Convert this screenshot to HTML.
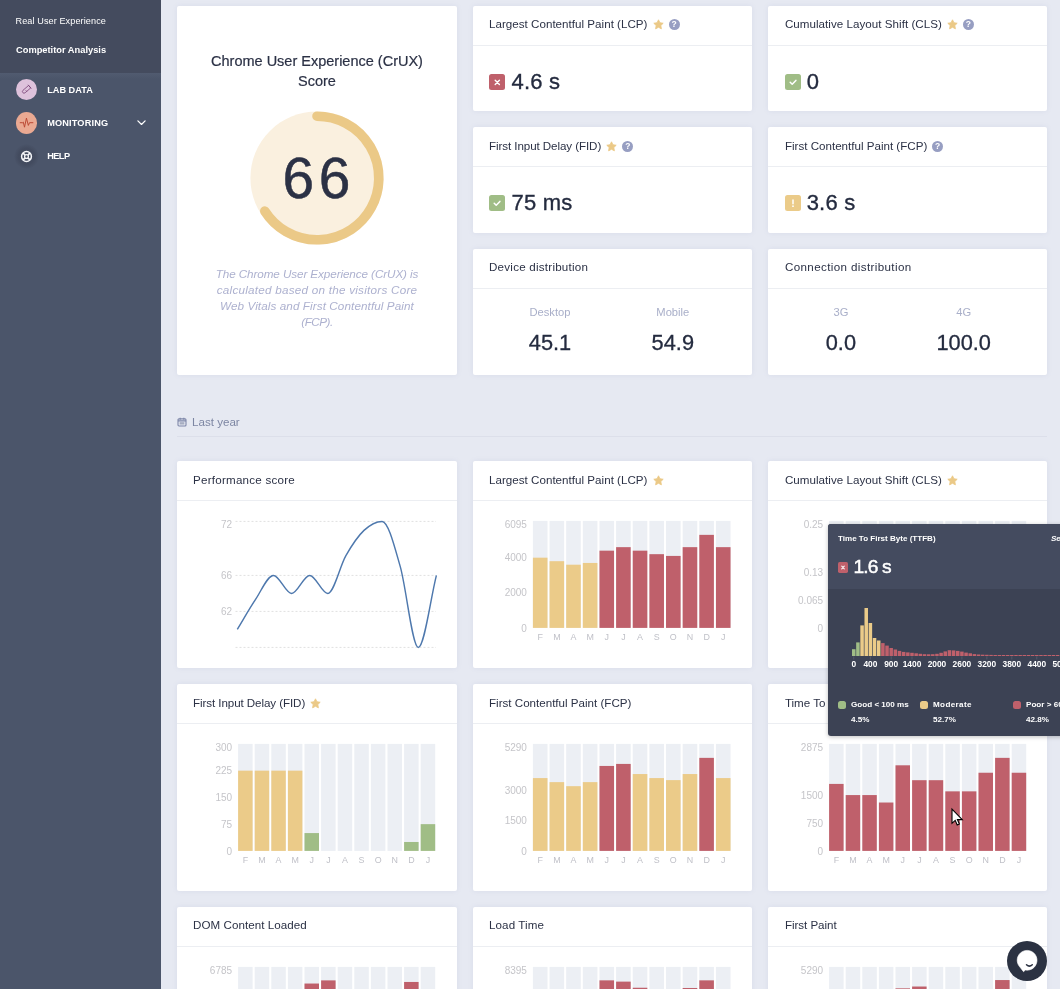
<!DOCTYPE html>
<html lang="en"><head><meta charset="utf-8"><title>Real User Experience</title>
<style>
*{box-sizing:border-box;margin:0;padding:0}
html,body{width:1060px;height:989px;overflow:hidden}
body{background:#e6e9f2;font-family:"Liberation Sans", sans-serif;color:#2b3145;position:relative}
#side{position:absolute;left:0;top:0;width:161px;height:989px;background:#4b556a}
#sidetop{position:absolute;left:0;top:0;width:161px;height:73px;background:#444b5e}
#sideband{position:absolute;left:0;top:73px;width:161px;height:6px;background:linear-gradient(#515b70,#4b556a)}
.sl{position:absolute;left:16px;font-size:9.1px;color:#fff;line-height:12px;white-space:nowrap}
.sl.b{font-weight:bold;font-size:9.3px}
.nav{position:absolute;left:16px;height:22px;width:140px}
.ic{position:absolute;left:0;top:0.5px;width:21px;height:21px;border-radius:50%}
.ic svg{display:block;width:21px;height:21px}
.nt{position:absolute;left:31.2px;top:0;line-height:22px;font-size:9.2px;font-weight:bold;color:#fff;white-space:nowrap}
.chev{position:absolute;left:120.6px;top:8.2px;width:9px;height:5.4px}
.card{position:absolute;background:#fff;border-radius:2px;box-shadow:0 0 5px rgba(130,140,185,.13)}
.hd{height:40px;border-bottom:1px solid #eceef2;padding-left:16px;padding-bottom:4px;line-height:36px;font-size:11.6px;white-space:nowrap;display:flex;align-items:center}
.hd2{padding-bottom:2.6px;line-height:37.4px}
.star{width:11px;height:11px;margin-left:5.3px;position:relative;top:1.2px}
.help{display:inline-block;width:11px;height:11px;border-radius:50%;background:#979ec2;color:#fff;font-size:8.5px;font-weight:bold;line-height:11px;text-align:center;margin-left:4.8px;position:relative;top:0.8px}
.mv{position:absolute;left:16px;top:68px;height:16px}
.mv .st{position:absolute;left:0;top:0;width:16px;height:16px}
.mv span{position:absolute;left:22.5px;top:-4.4px;font-size:22px;letter-spacing:0.2px;line-height:24px;white-space:nowrap;-webkit-text-stroke:0.35px #242b3f;color:#242b3f}
.ctitle{position:absolute;left:0;width:100%;top:44.6px;text-align:center;font-size:14.5px;line-height:20px;-webkit-text-stroke:0.2px #2b3145}
.cdesc{position:absolute;left:0;width:100%;top:259.6px;text-align:center;font-size:11.7px;line-height:16px;font-style:italic;color:#adb1cf}
.dl{position:absolute;top:56.3px;width:122px;text-align:center;font-size:11.2px;color:#a9afc9;line-height:14px}
.dv{position:absolute;top:80.9px;width:122px;text-align:center;font-size:21.8px;line-height:26px;-webkit-text-stroke:0.3px #242b3f;color:#242b3f}
#ly{position:absolute;left:177px;top:415px;font-size:11.6px;color:#7d86a3;line-height:14px;display:flex;align-items:center}
#ly span{margin-left:5px}
#lyline{position:absolute;left:177px;top:436px;width:870px;height:1px;background:#dcdfea}
#charts{position:absolute;left:0;top:0}
.ax{font-size:10px;fill:#c5c5c9;font-family:"Liberation Sans", sans-serif}
.xl{font-size:8.9px;fill:#c0c1c8}
.tx{font-size:8.4px;fill:#fff;font-weight:bold;font-family:"Liberation Sans", sans-serif}
#tip{position:absolute;left:828px;top:524px;width:240px;height:212px;background:#3c4254;border-radius:3px 0 0 3px;box-shadow:0 1px 4px rgba(0,0,0,.25);overflow:hidden;color:#fff}
#tiph{position:absolute;left:0;top:0;width:100%;height:65px;background:#444b5f}
.tt{position:absolute;left:10px;top:10px;font-size:8.05px;font-weight:bold;line-height:10px;white-space:nowrap}
.tse{position:absolute;left:223px;top:10px;font-size:8.05px;font-weight:bold;font-style:italic;line-height:10px;white-space:nowrap}
.tv{position:absolute;left:10px;top:32px;display:flex;align-items:center;height:22px}
.tv span{font-size:19.2px;margin-left:5.5px;line-height:22px;position:relative;top:0.4px;letter-spacing:-0.9px;-webkit-text-stroke:0.5px #fff}
.lg{position:absolute;top:172.5px;padding-left:13px;font-size:8.1px;font-weight:bold;line-height:15.2px;white-space:nowrap}
.lg i{position:absolute;left:0;top:4.6px;width:8px;height:8px;border-radius:2.5px}
#chat{position:absolute;left:1007px;top:941px;width:40px;height:40px;border-radius:50%;background:#2b3242}
</style></head>
<body>
<div id="side">
<div id="sidetop"><div class="sl" style="top:15px;left:15.5px;letter-spacing:0.1px">Real User Experience</div><div class="sl b" style="top:44px">Competitor Analysis</div></div>
<div id="sideband"></div>
<div class="nav" style="top:78.5px"><span class="ic" style="background:#dec2dc"><svg viewBox="0 0 21 21"><g transform="translate(10.4 10.500) rotate(-41) scale(.86)" fill="none" stroke="#7b4579" stroke-width="0.9" stroke-linejoin="round" stroke-linecap="round"><path d="M4.6 -1.9H-3.6a1.9 1.9 0 0 0 0 3.8H4.6z"/><path d="M5 -2.500v5"/><path d="M-1.2 1.9v-1.6" stroke-width=".7"/></g></svg></span><span class="nt">LAB DATA</span></div>
<div class="nav" style="top:111.7px"><span class="ic" style="background:#eaa992;height:21.7px"><svg viewBox="0 0 21 21"><path d="M4.2 10.700H6.700L7.300 10.100 8.500 15.200 10.450 6.100 12.350 13.400 13.500 10.700H16.900" fill="none" stroke="#b8452f" stroke-width="0.95" stroke-linejoin="round" stroke-linecap="round"/></svg></span><span class="nt" style="letter-spacing:0.15px">MONITORING</span><svg class="chev" viewBox="0 0 10 6"><path d="M1 1l4 4 4-4" fill="none" stroke="#fff" stroke-width="1.4" stroke-linecap="round" stroke-linejoin="round"/></svg></div>
<div class="nav" style="top:145.3px"><span class="ic" style="background:radial-gradient(circle,rgba(60,67,86,.55) 45%,rgba(60,67,86,0) 72%);width:25px;height:25px;left:-2px;top:-1.400px"><svg viewBox="0 0 25 25" style="width:25px;height:25px"><g fill="none" stroke="#f4f5f8"><circle cx="12.500" cy="12.500" r="4.900" stroke-width="1.500"/><circle cx="12.500" cy="12.500" r="1.900" stroke-width="1.300"/><path stroke-width="1.700" d="M8.900 8.900l2.200 2.200M16.100 8.900l-2.200 2.200M8.900 16.100l2.200-2.200M16.100 16.100l-2.200-2.200"/></g></svg></span><span class="nt" style="letter-spacing:-0.55px">HELP</span></div>
</div>
<div class="card" style="left:177px;top:6px;width:280px;height:369px">
<div class="ctitle">Chrome User Experience (CrUX)<br>Score</div>
<svg style="position:absolute;left:69.7px;top:102px" width="140" height="140" viewBox="0 0 140 140">
<circle cx="70" cy="70" r="66.6" fill="#faf0df"/>
<path d="M70 8.2 A61.8 61.8 0 1 1 17.8 103.1" fill="none" stroke="#ebc987" stroke-width="9.6" stroke-linecap="round"/>
<text x="35.6" y="89.9" font-size="56.8" letter-spacing="4.6" fill="#2b3145" stroke="#2b3145" stroke-width="0.5" font-family='"Liberation Sans", sans-serif'>66</text>
</svg>
<div class="cdesc"><span style="letter-spacing:-0.09px">The Chrome User Experience (CrUX) is</span><br><span style="letter-spacing:0.24px">calculated based on the visitors Core</span><br><span style="letter-spacing:0.09px">Web Vitals and First Contentful Paint</span><br><span style="letter-spacing:-0.5px">(FCP).</span></div>
</div>
<div class="card" style="left:473px;top:6px;width:279.1px;height:105px"><div class="hd"><span style="letter-spacing:0.02px">Largest Contentful Paint (LCP)</span><svg class="star" viewBox="0 0 24 24"><path d="M12 1.8l3.1 6.5 7.1 1-5.2 5 1.3 7.1L12 18l-6.3 3.4 1.3-7.1-5.2-5 7.1-1z" fill="#ebc987" stroke="#ebc987" stroke-width="2" stroke-linejoin="round"/></svg><span class="help">?</span></div><div class="mv" style="left:16px"><svg class="st" viewBox="0 0 16 16"><rect width="16" height="16" rx="2.5" fill="#bf606b"/><path d="M6.2 6.2l4.2 4.2M10.4 6.2l-4.2 4.2" stroke="#fff" stroke-width="1.4" stroke-linecap="round"/></svg><span style="left:22.5px">4.6 s</span></div></div>
<div class="card" style="left:768px;top:6px;width:279.3px;height:105px"><div class="hd" style="padding-left:16.9px"><span style="letter-spacing:0.035px">Cumulative Layout Shift (CLS)</span><svg class="star" viewBox="0 0 24 24"><path d="M12 1.8l3.1 6.5 7.1 1-5.2 5 1.3 7.1L12 18l-6.3 3.4 1.3-7.1-5.2-5 7.1-1z" fill="#ebc987" stroke="#ebc987" stroke-width="2" stroke-linejoin="round"/></svg><span class="help">?</span></div><div class="mv" style="left:16.9px"><svg class="st" viewBox="0 0 16 16"><rect width="16" height="16" rx="2.5" fill="#a0bd86"/><path d="M5.2 8.300l2 2 3.700-3.900" stroke="#fff" stroke-width="1.500" fill="none" stroke-linecap="round" stroke-linejoin="round"/></svg><span style="left:21.8px">0</span></div></div>
<div class="card" style="left:473px;top:127px;width:279.1px;height:106px"><div class="hd hd2"><span style="letter-spacing:-0.08px">First Input Delay (FID)</span><svg class="star" viewBox="0 0 24 24"><path d="M12 1.8l3.1 6.5 7.1 1-5.2 5 1.3 7.1L12 18l-6.3 3.4 1.3-7.1-5.2-5 7.1-1z" fill="#ebc987" stroke="#ebc987" stroke-width="2" stroke-linejoin="round"/></svg><span class="help">?</span></div><div class="mv" style="left:16px"><svg class="st" viewBox="0 0 16 16"><rect width="16" height="16" rx="2.5" fill="#a0bd86"/><path d="M5.2 8.300l2 2 3.700-3.900" stroke="#fff" stroke-width="1.500" fill="none" stroke-linecap="round" stroke-linejoin="round"/></svg><span style="left:22.5px">75 ms</span></div></div>
<div class="card" style="left:768px;top:127px;width:279.3px;height:106px"><div class="hd hd2" style="padding-left:16.9px"><span style="letter-spacing:0px">First Contentful Paint (FCP)</span><span class="help">?</span></div><div class="mv" style="left:16.9px"><svg class="st" viewBox="0 0 16 16"><rect width="16" height="16" rx="2.5" fill="#ebcb89"/><path d="M8 5v3.800" stroke="#fff" stroke-width="1.500" stroke-linecap="round"/><circle cx="8" cy="11.200" r=".9" fill="#fff"/></svg><span style="left:21.8px">3.6 s</span></div></div>
<div class="card" style="left:473px;top:249px;width:279.1px;height:126px"><div class="hd"><span style="letter-spacing:0.235px">Device distribution</span></div><div class="dl" style="left:16px">Desktop</div><div class="dl" style="left:138.8px">Mobile</div><div class="dv" style="left:16px">45.1</div><div class="dv" style="left:138.8px">54.9</div></div>
<div class="card" style="left:768px;top:249px;width:279.3px;height:126px"><div class="hd" style="padding-left:16.9px"><span style="letter-spacing:0.38px">Connection distribution</span></div><div class="dl" style="left:11.9px">3G</div><div class="dl" style="left:134.7px">4G</div><div class="dv" style="left:11.9px">0.0</div><div class="dv" style="left:134.7px">100.0</div></div>
<div id="ly"><svg viewBox="0 0 12 12" width="10" height="10"><g fill="none" stroke="#7d86a8" stroke-width="1.3"><rect x="1.2" y="2.2" width="9.6" height="8.6" rx="1.2"/><path d="M1.2 4.6h9.6M3.8 0.8v2.4M8.2 0.8v2.4"/></g><rect x="3.2" y="6.2" width="5.6" height="2.8" fill="#8a93ad" opacity=".7"/></svg><span>Last year</span></div><div id="lyline"></div>
<div class="card" style="left:177px;top:461px;width:280px;height:207px"><div class="hd hd2"><span style="letter-spacing:0.24px">Performance score</span></div></div>
<div class="card" style="left:473px;top:461px;width:279.1px;height:207px"><div class="hd hd2"><span style="letter-spacing:0.02px">Largest Contentful Paint (LCP)</span><svg class="star" viewBox="0 0 24 24"><path d="M12 1.8l3.1 6.5 7.1 1-5.2 5 1.3 7.1L12 18l-6.3 3.4 1.3-7.1-5.2-5 7.1-1z" fill="#ebc987" stroke="#ebc987" stroke-width="2" stroke-linejoin="round"/></svg></div></div>
<div class="card" style="left:768px;top:461px;width:279.3px;height:207px"><div class="hd hd2" style="padding-left:16.9px"><span style="letter-spacing:0.035px">Cumulative Layout Shift (CLS)</span><svg class="star" viewBox="0 0 24 24"><path d="M12 1.8l3.1 6.5 7.1 1-5.2 5 1.3 7.1L12 18l-6.3 3.4 1.3-7.1-5.2-5 7.1-1z" fill="#ebc987" stroke="#ebc987" stroke-width="2" stroke-linejoin="round"/></svg></div></div>
<div class="card" style="left:177px;top:684px;width:280px;height:207px"><div class="hd hd2"><span style="letter-spacing:-0.08px">First Input Delay (FID)</span><svg class="star" viewBox="0 0 24 24"><path d="M12 1.8l3.1 6.5 7.1 1-5.2 5 1.3 7.1L12 18l-6.3 3.4 1.3-7.1-5.2-5 7.1-1z" fill="#ebc987" stroke="#ebc987" stroke-width="2" stroke-linejoin="round"/></svg></div></div>
<div class="card" style="left:473px;top:684px;width:279.1px;height:207px"><div class="hd hd2"><span style="letter-spacing:0px">First Contentful Paint (FCP)</span></div></div>
<div class="card" style="left:768px;top:684px;width:279.3px;height:207px"><div class="hd hd2" style="padding-left:16.9px"><span style="letter-spacing:0px">Time To First Byte (TTFB)</span></div></div>
<div class="card" style="left:177px;top:907px;width:280px;height:207px"><div class="hd"><span style="letter-spacing:0.06px">DOM Content Loaded</span></div></div>
<div class="card" style="left:473px;top:907px;width:279.1px;height:207px"><div class="hd"><span style="letter-spacing:0.1px">Load Time</span></div></div>
<div class="card" style="left:768px;top:907px;width:279.3px;height:207px"><div class="hd" style="padding-left:16.9px"><span style="letter-spacing:-0.04px">First Paint</span></div></div>
<svg id="charts" width="1060" height="989" viewBox="0 0 1060 989"><path d="M235.5 521.4H436" stroke="#e0e0e0" stroke-width="1" stroke-dasharray="2 2" fill="none"/>
<text x="232" y="528.2" text-anchor="end" class="ax">72</text>
<path d="M235.5 575.4H436" stroke="#e0e0e0" stroke-width="1" stroke-dasharray="2 2" fill="none"/>
<text x="232" y="579.0" text-anchor="end" class="ax">66</text>
<path d="M235.5 611.4H436" stroke="#e0e0e0" stroke-width="1" stroke-dasharray="2 2" fill="none"/>
<text x="232" y="615.0" text-anchor="end" class="ax">62</text>
<path d="M235.5 647.4H436" stroke="#e0e0e0" stroke-width="1" stroke-dasharray="2 2" fill="none"/>
<path d="M237.30 629.40 C243.33 619.50 249.37 608.70 255.40 599.70 C261.43 590.70 267.47 575.40 273.50 575.40 C279.53 575.40 285.57 593.40 291.60 593.40 C297.63 593.40 303.67 575.40 309.70 575.40 C315.73 575.40 321.77 593.40 327.80 593.40 C333.83 593.40 339.87 566.10 345.90 555.60 C351.93 545.10 357.97 536.10 364.00 530.40 C370.03 524.70 376.07 521.40 382.10 521.40 C388.13 521.40 394.17 545.40 400.20 566.40 C406.23 587.40 412.27 647.40 418.30 647.40 C424.33 647.40 430.37 599.40 436.40 575.40" fill="none" stroke="#4e78ad" stroke-width="1.45"/>
<rect x="532.90" y="520.90" width="14.60" height="107.00" fill="#eceff4"/>
<rect x="532.90" y="557.68" width="14.60" height="70.22" fill="#ebcb89"/>
<rect x="549.54" y="520.90" width="14.60" height="107.00" fill="#eceff4"/>
<rect x="549.54" y="561.19" width="14.60" height="66.71" fill="#ebcb89"/>
<rect x="566.18" y="520.90" width="14.60" height="107.00" fill="#eceff4"/>
<rect x="566.18" y="564.70" width="14.60" height="63.20" fill="#ebcb89"/>
<rect x="582.82" y="520.90" width="14.60" height="107.00" fill="#eceff4"/>
<rect x="582.82" y="562.95" width="14.60" height="64.95" fill="#ebcb89"/>
<rect x="599.46" y="520.90" width="14.60" height="107.00" fill="#eceff4"/>
<rect x="599.46" y="550.66" width="14.60" height="77.24" fill="#bf606b"/>
<rect x="616.10" y="520.90" width="14.60" height="107.00" fill="#eceff4"/>
<rect x="616.10" y="547.15" width="14.60" height="80.75" fill="#bf606b"/>
<rect x="632.74" y="520.90" width="14.60" height="107.00" fill="#eceff4"/>
<rect x="632.74" y="550.66" width="14.60" height="77.24" fill="#bf606b"/>
<rect x="649.38" y="520.90" width="14.60" height="107.00" fill="#eceff4"/>
<rect x="649.38" y="554.17" width="14.60" height="73.73" fill="#bf606b"/>
<rect x="666.02" y="520.90" width="14.60" height="107.00" fill="#eceff4"/>
<rect x="666.02" y="555.92" width="14.60" height="71.98" fill="#bf606b"/>
<rect x="682.66" y="520.90" width="14.60" height="107.00" fill="#eceff4"/>
<rect x="682.66" y="547.15" width="14.60" height="80.75" fill="#bf606b"/>
<rect x="699.30" y="520.90" width="14.60" height="107.00" fill="#eceff4"/>
<rect x="699.30" y="534.86" width="14.60" height="93.04" fill="#bf606b"/>
<rect x="715.94" y="520.90" width="14.60" height="107.00" fill="#eceff4"/>
<rect x="715.94" y="547.15" width="14.60" height="80.75" fill="#bf606b"/>
<text x="526.90" y="528.10" text-anchor="end" class="ax">6095</text>
<text x="526.90" y="561.28" text-anchor="end" class="ax">4000</text>
<text x="526.90" y="596.39" text-anchor="end" class="ax">2000</text>
<text x="526.90" y="631.50" text-anchor="end" class="ax">0</text>
<text x="540.20" y="639.80" text-anchor="middle" class="ax xl">F</text>
<text x="556.84" y="639.80" text-anchor="middle" class="ax xl">M</text>
<text x="573.48" y="639.80" text-anchor="middle" class="ax xl">A</text>
<text x="590.12" y="639.80" text-anchor="middle" class="ax xl">M</text>
<text x="606.76" y="639.80" text-anchor="middle" class="ax xl">J</text>
<text x="623.40" y="639.80" text-anchor="middle" class="ax xl">J</text>
<text x="640.04" y="639.80" text-anchor="middle" class="ax xl">A</text>
<text x="656.68" y="639.80" text-anchor="middle" class="ax xl">S</text>
<text x="673.32" y="639.80" text-anchor="middle" class="ax xl">O</text>
<text x="689.96" y="639.80" text-anchor="middle" class="ax xl">N</text>
<text x="706.60" y="639.80" text-anchor="middle" class="ax xl">D</text>
<text x="723.24" y="639.80" text-anchor="middle" class="ax xl">J</text>
<rect x="829.10" y="520.90" width="14.50" height="107.00" fill="#eceff4"/>
<rect x="845.70" y="520.90" width="14.50" height="107.00" fill="#eceff4"/>
<rect x="862.30" y="520.90" width="14.50" height="107.00" fill="#eceff4"/>
<rect x="878.90" y="520.90" width="14.50" height="107.00" fill="#eceff4"/>
<rect x="895.50" y="520.90" width="14.50" height="107.00" fill="#eceff4"/>
<rect x="912.10" y="520.90" width="14.50" height="107.00" fill="#eceff4"/>
<rect x="928.70" y="520.90" width="14.50" height="107.00" fill="#eceff4"/>
<rect x="945.30" y="520.90" width="14.50" height="107.00" fill="#eceff4"/>
<rect x="961.90" y="520.90" width="14.50" height="107.00" fill="#eceff4"/>
<rect x="978.50" y="520.90" width="14.50" height="107.00" fill="#eceff4"/>
<rect x="995.10" y="520.90" width="14.50" height="107.00" fill="#eceff4"/>
<rect x="1011.70" y="520.90" width="14.50" height="107.00" fill="#eceff4"/>
<text x="823.10" y="528.10" text-anchor="end" class="ax">0.25</text>
<text x="823.10" y="575.86" text-anchor="end" class="ax">0.13</text>
<text x="823.10" y="603.68" text-anchor="end" class="ax">0.065</text>
<text x="823.10" y="631.50" text-anchor="end" class="ax">0</text>
<text x="836.35" y="639.80" text-anchor="middle" class="ax xl">F</text>
<text x="852.95" y="639.80" text-anchor="middle" class="ax xl">M</text>
<text x="869.55" y="639.80" text-anchor="middle" class="ax xl">A</text>
<text x="886.15" y="639.80" text-anchor="middle" class="ax xl">M</text>
<text x="902.75" y="639.80" text-anchor="middle" class="ax xl">J</text>
<text x="919.35" y="639.80" text-anchor="middle" class="ax xl">J</text>
<text x="935.95" y="639.80" text-anchor="middle" class="ax xl">A</text>
<text x="952.55" y="639.80" text-anchor="middle" class="ax xl">S</text>
<text x="969.15" y="639.80" text-anchor="middle" class="ax xl">O</text>
<text x="985.75" y="639.80" text-anchor="middle" class="ax xl">N</text>
<text x="1002.35" y="639.80" text-anchor="middle" class="ax xl">D</text>
<text x="1018.95" y="639.80" text-anchor="middle" class="ax xl">J</text>
<rect x="238.10" y="743.90" width="14.50" height="107.00" fill="#eceff4"/>
<rect x="238.10" y="770.65" width="14.50" height="80.25" fill="#ebcb89"/>
<rect x="254.70" y="743.90" width="14.50" height="107.00" fill="#eceff4"/>
<rect x="254.70" y="770.65" width="14.50" height="80.25" fill="#ebcb89"/>
<rect x="271.30" y="743.90" width="14.50" height="107.00" fill="#eceff4"/>
<rect x="271.30" y="770.65" width="14.50" height="80.25" fill="#ebcb89"/>
<rect x="287.90" y="743.90" width="14.50" height="107.00" fill="#eceff4"/>
<rect x="287.90" y="770.65" width="14.50" height="80.25" fill="#ebcb89"/>
<rect x="304.50" y="743.90" width="14.50" height="107.00" fill="#eceff4"/>
<rect x="304.50" y="833.07" width="14.50" height="17.83" fill="#a0bd86"/>
<rect x="321.10" y="743.90" width="14.50" height="107.00" fill="#eceff4"/>
<rect x="337.70" y="743.90" width="14.50" height="107.00" fill="#eceff4"/>
<rect x="354.30" y="743.90" width="14.50" height="107.00" fill="#eceff4"/>
<rect x="370.90" y="743.90" width="14.50" height="107.00" fill="#eceff4"/>
<rect x="387.50" y="743.90" width="14.50" height="107.00" fill="#eceff4"/>
<rect x="404.10" y="743.90" width="14.50" height="107.00" fill="#eceff4"/>
<rect x="404.10" y="841.98" width="14.50" height="8.92" fill="#a0bd86"/>
<rect x="420.70" y="743.90" width="14.50" height="107.00" fill="#eceff4"/>
<rect x="420.70" y="824.15" width="14.50" height="26.75" fill="#a0bd86"/>
<text x="232.10" y="751.10" text-anchor="end" class="ax">300</text>
<text x="232.10" y="774.25" text-anchor="end" class="ax">225</text>
<text x="232.10" y="801.00" text-anchor="end" class="ax">150</text>
<text x="232.10" y="827.75" text-anchor="end" class="ax">75</text>
<text x="232.10" y="854.50" text-anchor="end" class="ax">0</text>
<text x="245.35" y="862.80" text-anchor="middle" class="ax xl">F</text>
<text x="261.95" y="862.80" text-anchor="middle" class="ax xl">M</text>
<text x="278.55" y="862.80" text-anchor="middle" class="ax xl">A</text>
<text x="295.15" y="862.80" text-anchor="middle" class="ax xl">M</text>
<text x="311.75" y="862.80" text-anchor="middle" class="ax xl">J</text>
<text x="328.35" y="862.80" text-anchor="middle" class="ax xl">J</text>
<text x="344.95" y="862.80" text-anchor="middle" class="ax xl">A</text>
<text x="361.55" y="862.80" text-anchor="middle" class="ax xl">S</text>
<text x="378.15" y="862.80" text-anchor="middle" class="ax xl">O</text>
<text x="394.75" y="862.80" text-anchor="middle" class="ax xl">N</text>
<text x="411.35" y="862.80" text-anchor="middle" class="ax xl">D</text>
<text x="427.95" y="862.80" text-anchor="middle" class="ax xl">J</text>
<rect x="532.90" y="743.90" width="14.60" height="107.00" fill="#eceff4"/>
<rect x="532.90" y="778.08" width="14.60" height="72.82" fill="#ebcb89"/>
<rect x="549.54" y="743.90" width="14.60" height="107.00" fill="#eceff4"/>
<rect x="549.54" y="782.13" width="14.60" height="68.77" fill="#ebcb89"/>
<rect x="566.18" y="743.90" width="14.60" height="107.00" fill="#eceff4"/>
<rect x="566.18" y="786.17" width="14.60" height="64.73" fill="#ebcb89"/>
<rect x="582.82" y="743.90" width="14.60" height="107.00" fill="#eceff4"/>
<rect x="582.82" y="782.13" width="14.60" height="68.77" fill="#ebcb89"/>
<rect x="599.46" y="743.90" width="14.60" height="107.00" fill="#eceff4"/>
<rect x="599.46" y="765.95" width="14.60" height="84.95" fill="#bf606b"/>
<rect x="616.10" y="743.90" width="14.60" height="107.00" fill="#eceff4"/>
<rect x="616.10" y="763.92" width="14.60" height="86.98" fill="#bf606b"/>
<rect x="632.74" y="743.90" width="14.60" height="107.00" fill="#eceff4"/>
<rect x="632.74" y="774.04" width="14.60" height="76.86" fill="#ebcb89"/>
<rect x="649.38" y="743.90" width="14.60" height="107.00" fill="#eceff4"/>
<rect x="649.38" y="778.08" width="14.60" height="72.82" fill="#ebcb89"/>
<rect x="666.02" y="743.90" width="14.60" height="107.00" fill="#eceff4"/>
<rect x="666.02" y="780.11" width="14.60" height="70.79" fill="#ebcb89"/>
<rect x="682.66" y="743.90" width="14.60" height="107.00" fill="#eceff4"/>
<rect x="682.66" y="774.04" width="14.60" height="76.86" fill="#ebcb89"/>
<rect x="699.30" y="743.90" width="14.60" height="107.00" fill="#eceff4"/>
<rect x="699.30" y="757.86" width="14.60" height="93.04" fill="#bf606b"/>
<rect x="715.94" y="743.90" width="14.60" height="107.00" fill="#eceff4"/>
<rect x="715.94" y="778.08" width="14.60" height="72.82" fill="#ebcb89"/>
<text x="526.90" y="751.10" text-anchor="end" class="ax">5290</text>
<text x="526.90" y="793.82" text-anchor="end" class="ax">3000</text>
<text x="526.90" y="824.16" text-anchor="end" class="ax">1500</text>
<text x="526.90" y="854.50" text-anchor="end" class="ax">0</text>
<text x="540.20" y="862.80" text-anchor="middle" class="ax xl">F</text>
<text x="556.84" y="862.80" text-anchor="middle" class="ax xl">M</text>
<text x="573.48" y="862.80" text-anchor="middle" class="ax xl">A</text>
<text x="590.12" y="862.80" text-anchor="middle" class="ax xl">M</text>
<text x="606.76" y="862.80" text-anchor="middle" class="ax xl">J</text>
<text x="623.40" y="862.80" text-anchor="middle" class="ax xl">J</text>
<text x="640.04" y="862.80" text-anchor="middle" class="ax xl">A</text>
<text x="656.68" y="862.80" text-anchor="middle" class="ax xl">S</text>
<text x="673.32" y="862.80" text-anchor="middle" class="ax xl">O</text>
<text x="689.96" y="862.80" text-anchor="middle" class="ax xl">N</text>
<text x="706.60" y="862.80" text-anchor="middle" class="ax xl">D</text>
<text x="723.24" y="862.80" text-anchor="middle" class="ax xl">J</text>
<rect x="829.10" y="743.90" width="14.50" height="107.00" fill="#eceff4"/>
<rect x="829.10" y="783.91" width="14.50" height="66.99" fill="#bf606b"/>
<rect x="845.70" y="743.90" width="14.50" height="107.00" fill="#eceff4"/>
<rect x="845.70" y="795.07" width="14.50" height="55.83" fill="#bf606b"/>
<rect x="862.30" y="743.90" width="14.50" height="107.00" fill="#eceff4"/>
<rect x="862.30" y="795.07" width="14.50" height="55.83" fill="#bf606b"/>
<rect x="878.90" y="743.90" width="14.50" height="107.00" fill="#eceff4"/>
<rect x="878.90" y="802.52" width="14.50" height="48.38" fill="#bf606b"/>
<rect x="895.50" y="743.90" width="14.50" height="107.00" fill="#eceff4"/>
<rect x="895.50" y="765.30" width="14.50" height="85.60" fill="#bf606b"/>
<rect x="912.10" y="743.90" width="14.50" height="107.00" fill="#eceff4"/>
<rect x="912.10" y="780.19" width="14.50" height="70.71" fill="#bf606b"/>
<rect x="928.70" y="743.90" width="14.50" height="107.00" fill="#eceff4"/>
<rect x="928.70" y="780.19" width="14.50" height="70.71" fill="#bf606b"/>
<rect x="945.30" y="743.90" width="14.50" height="107.00" fill="#eceff4"/>
<rect x="945.30" y="791.35" width="14.50" height="59.55" fill="#bf606b"/>
<rect x="961.90" y="743.90" width="14.50" height="107.00" fill="#eceff4"/>
<rect x="961.90" y="791.35" width="14.50" height="59.55" fill="#bf606b"/>
<rect x="978.50" y="743.90" width="14.50" height="107.00" fill="#eceff4"/>
<rect x="978.50" y="772.74" width="14.50" height="78.16" fill="#bf606b"/>
<rect x="995.10" y="743.90" width="14.50" height="107.00" fill="#eceff4"/>
<rect x="995.10" y="757.86" width="14.50" height="93.04" fill="#bf606b"/>
<rect x="1011.70" y="743.90" width="14.50" height="107.00" fill="#eceff4"/>
<rect x="1011.70" y="772.74" width="14.50" height="78.16" fill="#bf606b"/>
<text x="823.10" y="751.10" text-anchor="end" class="ax">2875</text>
<text x="823.10" y="798.67" text-anchor="end" class="ax">1500</text>
<text x="823.10" y="826.59" text-anchor="end" class="ax">750</text>
<text x="823.10" y="854.50" text-anchor="end" class="ax">0</text>
<text x="836.35" y="862.80" text-anchor="middle" class="ax xl">F</text>
<text x="852.95" y="862.80" text-anchor="middle" class="ax xl">M</text>
<text x="869.55" y="862.80" text-anchor="middle" class="ax xl">A</text>
<text x="886.15" y="862.80" text-anchor="middle" class="ax xl">M</text>
<text x="902.75" y="862.80" text-anchor="middle" class="ax xl">J</text>
<text x="919.35" y="862.80" text-anchor="middle" class="ax xl">J</text>
<text x="935.95" y="862.80" text-anchor="middle" class="ax xl">A</text>
<text x="952.55" y="862.80" text-anchor="middle" class="ax xl">S</text>
<text x="969.15" y="862.80" text-anchor="middle" class="ax xl">O</text>
<text x="985.75" y="862.80" text-anchor="middle" class="ax xl">N</text>
<text x="1002.35" y="862.80" text-anchor="middle" class="ax xl">D</text>
<text x="1018.95" y="862.80" text-anchor="middle" class="ax xl">J</text>
<rect x="238.10" y="966.90" width="14.50" height="107.00" fill="#eceff4"/>
<rect x="238.10" y="1002.93" width="14.50" height="70.97" fill="#ebcb89"/>
<rect x="254.70" y="966.90" width="14.50" height="107.00" fill="#eceff4"/>
<rect x="254.70" y="1004.51" width="14.50" height="69.39" fill="#ebcb89"/>
<rect x="271.30" y="966.90" width="14.50" height="107.00" fill="#eceff4"/>
<rect x="271.30" y="1006.09" width="14.50" height="67.81" fill="#ebcb89"/>
<rect x="287.90" y="966.90" width="14.50" height="107.00" fill="#eceff4"/>
<rect x="287.90" y="1004.51" width="14.50" height="69.39" fill="#ebcb89"/>
<rect x="304.50" y="966.90" width="14.50" height="107.00" fill="#eceff4"/>
<rect x="304.50" y="983.54" width="14.50" height="90.36" fill="#bf606b"/>
<rect x="321.10" y="966.90" width="14.50" height="107.00" fill="#eceff4"/>
<rect x="321.10" y="980.38" width="14.50" height="93.52" fill="#bf606b"/>
<rect x="337.70" y="966.90" width="14.50" height="107.00" fill="#eceff4"/>
<rect x="337.70" y="995.05" width="14.50" height="78.85" fill="#ebcb89"/>
<rect x="354.30" y="966.90" width="14.50" height="107.00" fill="#eceff4"/>
<rect x="354.30" y="998.20" width="14.50" height="75.70" fill="#ebcb89"/>
<rect x="370.90" y="966.90" width="14.50" height="107.00" fill="#eceff4"/>
<rect x="370.90" y="999.78" width="14.50" height="74.12" fill="#ebcb89"/>
<rect x="387.50" y="966.90" width="14.50" height="107.00" fill="#eceff4"/>
<rect x="387.50" y="995.05" width="14.50" height="78.85" fill="#ebcb89"/>
<rect x="404.10" y="966.90" width="14.50" height="107.00" fill="#eceff4"/>
<rect x="404.10" y="981.96" width="14.50" height="91.94" fill="#bf606b"/>
<rect x="420.70" y="966.90" width="14.50" height="107.00" fill="#eceff4"/>
<rect x="420.70" y="996.63" width="14.50" height="77.27" fill="#ebcb89"/>
<text x="232.10" y="974.10" text-anchor="end" class="ax">6785</text>
<text x="245.35" y="1085.80" text-anchor="middle" class="ax xl">F</text>
<text x="261.95" y="1085.80" text-anchor="middle" class="ax xl">M</text>
<text x="278.55" y="1085.80" text-anchor="middle" class="ax xl">A</text>
<text x="295.15" y="1085.80" text-anchor="middle" class="ax xl">M</text>
<text x="311.75" y="1085.80" text-anchor="middle" class="ax xl">J</text>
<text x="328.35" y="1085.80" text-anchor="middle" class="ax xl">J</text>
<text x="344.95" y="1085.80" text-anchor="middle" class="ax xl">A</text>
<text x="361.55" y="1085.80" text-anchor="middle" class="ax xl">S</text>
<text x="378.15" y="1085.80" text-anchor="middle" class="ax xl">O</text>
<text x="394.75" y="1085.80" text-anchor="middle" class="ax xl">N</text>
<text x="411.35" y="1085.80" text-anchor="middle" class="ax xl">D</text>
<text x="427.95" y="1085.80" text-anchor="middle" class="ax xl">J</text>
<rect x="532.90" y="966.90" width="14.60" height="107.00" fill="#eceff4"/>
<rect x="532.90" y="997.43" width="14.60" height="76.47" fill="#ebcb89"/>
<rect x="549.54" y="966.90" width="14.60" height="107.00" fill="#eceff4"/>
<rect x="549.54" y="998.70" width="14.60" height="75.20" fill="#ebcb89"/>
<rect x="566.18" y="966.90" width="14.60" height="107.00" fill="#eceff4"/>
<rect x="566.18" y="999.98" width="14.60" height="73.92" fill="#ebcb89"/>
<rect x="582.82" y="966.90" width="14.60" height="107.00" fill="#eceff4"/>
<rect x="582.82" y="998.70" width="14.60" height="75.20" fill="#ebcb89"/>
<rect x="599.46" y="966.90" width="14.60" height="107.00" fill="#eceff4"/>
<rect x="599.46" y="980.35" width="14.60" height="93.55" fill="#bf606b"/>
<rect x="616.10" y="966.90" width="14.60" height="107.00" fill="#eceff4"/>
<rect x="616.10" y="981.62" width="14.60" height="92.28" fill="#bf606b"/>
<rect x="632.74" y="966.90" width="14.60" height="107.00" fill="#eceff4"/>
<rect x="632.74" y="987.74" width="14.60" height="86.16" fill="#bf606b"/>
<rect x="649.38" y="966.90" width="14.60" height="107.00" fill="#eceff4"/>
<rect x="649.38" y="993.60" width="14.60" height="80.30" fill="#ebcb89"/>
<rect x="666.02" y="966.90" width="14.60" height="107.00" fill="#eceff4"/>
<rect x="666.02" y="994.88" width="14.60" height="79.02" fill="#ebcb89"/>
<rect x="682.66" y="966.90" width="14.60" height="107.00" fill="#eceff4"/>
<rect x="682.66" y="987.99" width="14.60" height="85.91" fill="#bf606b"/>
<rect x="699.30" y="966.90" width="14.60" height="107.00" fill="#eceff4"/>
<rect x="699.30" y="980.35" width="14.60" height="93.55" fill="#bf606b"/>
<rect x="715.94" y="966.90" width="14.60" height="107.00" fill="#eceff4"/>
<rect x="715.94" y="993.60" width="14.60" height="80.30" fill="#ebcb89"/>
<text x="526.90" y="974.10" text-anchor="end" class="ax">8395</text>
<text x="540.20" y="1085.80" text-anchor="middle" class="ax xl">F</text>
<text x="556.84" y="1085.80" text-anchor="middle" class="ax xl">M</text>
<text x="573.48" y="1085.80" text-anchor="middle" class="ax xl">A</text>
<text x="590.12" y="1085.80" text-anchor="middle" class="ax xl">M</text>
<text x="606.76" y="1085.80" text-anchor="middle" class="ax xl">J</text>
<text x="623.40" y="1085.80" text-anchor="middle" class="ax xl">J</text>
<text x="640.04" y="1085.80" text-anchor="middle" class="ax xl">A</text>
<text x="656.68" y="1085.80" text-anchor="middle" class="ax xl">S</text>
<text x="673.32" y="1085.80" text-anchor="middle" class="ax xl">O</text>
<text x="689.96" y="1085.80" text-anchor="middle" class="ax xl">N</text>
<text x="706.60" y="1085.80" text-anchor="middle" class="ax xl">D</text>
<text x="723.24" y="1085.80" text-anchor="middle" class="ax xl">J</text>
<rect x="829.10" y="966.90" width="14.50" height="107.00" fill="#eceff4"/>
<rect x="829.10" y="1001.08" width="14.50" height="72.82" fill="#ebcb89"/>
<rect x="845.70" y="966.90" width="14.50" height="107.00" fill="#eceff4"/>
<rect x="845.70" y="1005.13" width="14.50" height="68.77" fill="#ebcb89"/>
<rect x="862.30" y="966.90" width="14.50" height="107.00" fill="#eceff4"/>
<rect x="862.30" y="1009.17" width="14.50" height="64.73" fill="#ebcb89"/>
<rect x="878.90" y="966.90" width="14.50" height="107.00" fill="#eceff4"/>
<rect x="878.90" y="1005.13" width="14.50" height="68.77" fill="#ebcb89"/>
<rect x="895.50" y="966.90" width="14.50" height="107.00" fill="#eceff4"/>
<rect x="895.50" y="988.34" width="14.50" height="85.56" fill="#bf606b"/>
<rect x="912.10" y="966.90" width="14.50" height="107.00" fill="#eceff4"/>
<rect x="912.10" y="986.52" width="14.50" height="87.38" fill="#bf606b"/>
<rect x="928.70" y="966.90" width="14.50" height="107.00" fill="#eceff4"/>
<rect x="928.70" y="997.04" width="14.50" height="76.86" fill="#ebcb89"/>
<rect x="945.30" y="966.90" width="14.50" height="107.00" fill="#eceff4"/>
<rect x="945.30" y="1001.08" width="14.50" height="72.82" fill="#ebcb89"/>
<rect x="961.90" y="966.90" width="14.50" height="107.00" fill="#eceff4"/>
<rect x="961.90" y="1003.11" width="14.50" height="70.79" fill="#ebcb89"/>
<rect x="978.50" y="966.90" width="14.50" height="107.00" fill="#eceff4"/>
<rect x="978.50" y="997.04" width="14.50" height="76.86" fill="#ebcb89"/>
<rect x="995.10" y="966.90" width="14.50" height="107.00" fill="#eceff4"/>
<rect x="995.10" y="980.05" width="14.50" height="93.85" fill="#bf606b"/>
<rect x="1011.70" y="966.90" width="14.50" height="107.00" fill="#eceff4"/>
<rect x="1011.70" y="1001.08" width="14.50" height="72.82" fill="#ebcb89"/>
<text x="823.10" y="974.10" text-anchor="end" class="ax">5290</text>
<text x="836.35" y="1085.80" text-anchor="middle" class="ax xl">F</text>
<text x="852.95" y="1085.80" text-anchor="middle" class="ax xl">M</text>
<text x="869.55" y="1085.80" text-anchor="middle" class="ax xl">A</text>
<text x="886.15" y="1085.80" text-anchor="middle" class="ax xl">M</text>
<text x="902.75" y="1085.80" text-anchor="middle" class="ax xl">J</text>
<text x="919.35" y="1085.80" text-anchor="middle" class="ax xl">J</text>
<text x="935.95" y="1085.80" text-anchor="middle" class="ax xl">A</text>
<text x="952.55" y="1085.80" text-anchor="middle" class="ax xl">S</text>
<text x="969.15" y="1085.80" text-anchor="middle" class="ax xl">O</text>
<text x="985.75" y="1085.80" text-anchor="middle" class="ax xl">N</text>
<text x="1002.35" y="1085.80" text-anchor="middle" class="ax xl">D</text>
<text x="1018.95" y="1085.80" text-anchor="middle" class="ax xl">J</text></svg>
<div id="tip"><div id="tiph"><div class="tt">Time To First Byte (TTFB)</div><div class="tse">See details</div>
<div class="tv"><svg viewBox="0 0 16 16" width="10" height="11" preserveAspectRatio="none"><rect width="16" height="16" rx="2.5" fill="#bf606b"/><path d="M6 6l4 4M10 6l-4 4" stroke="#fff" stroke-width="1.7" stroke-linecap="round"/></svg><span>1.6 s</span></div></div>
<svg style="position:absolute;left:0;top:0" width="240" height="212" viewBox="0 0 240 212"><rect x="24.00" y="125.20" width="3.5" height="6.80" fill="#a0bd86"/><rect x="28.16" y="118.40" width="3.5" height="13.60" fill="#a0bd86"/><rect x="32.32" y="101.40" width="3.5" height="30.60" fill="#ebcb89"/><rect x="36.48" y="84.00" width="3.5" height="48.00" fill="#ebcb89"/><rect x="40.64" y="99.00" width="3.5" height="33.00" fill="#ebcb89"/><rect x="44.80" y="114.00" width="3.5" height="18.00" fill="#ebcb89"/><rect x="48.96" y="116.50" width="3.5" height="15.50" fill="#ebcb89"/><rect x="53.12" y="119.10" width="3.5" height="12.90" fill="#bf606b"/><rect x="57.28" y="121.60" width="3.5" height="10.40" fill="#bf606b"/><rect x="61.44" y="124.00" width="3.5" height="8.00" fill="#bf606b"/><rect x="65.60" y="125.50" width="3.5" height="6.50" fill="#bf606b"/><rect x="69.76" y="126.90" width="3.5" height="5.10" fill="#bf606b"/><rect x="73.92" y="127.90" width="3.5" height="4.10" fill="#bf606b"/><rect x="78.08" y="128.40" width="3.5" height="3.60" fill="#bf606b"/><rect x="82.24" y="128.80" width="3.5" height="3.20" fill="#bf606b"/><rect x="86.40" y="129.30" width="3.5" height="2.70" fill="#bf606b"/><rect x="90.56" y="129.80" width="3.5" height="2.20" fill="#bf606b"/><rect x="94.72" y="130.20" width="3.5" height="1.80" fill="#bf606b"/><rect x="98.88" y="130.30" width="3.5" height="1.70" fill="#bf606b"/><rect x="103.04" y="130.20" width="3.5" height="1.80" fill="#bf606b"/><rect x="107.20" y="129.80" width="3.5" height="2.20" fill="#bf606b"/><rect x="111.36" y="128.80" width="3.5" height="3.20" fill="#bf606b"/><rect x="115.52" y="127.40" width="3.5" height="4.60" fill="#bf606b"/><rect x="119.68" y="126.20" width="3.5" height="5.80" fill="#bf606b"/><rect x="123.84" y="126.40" width="3.5" height="5.60" fill="#bf606b"/><rect x="128.00" y="126.90" width="3.5" height="5.10" fill="#bf606b"/><rect x="132.16" y="127.60" width="3.5" height="4.40" fill="#bf606b"/><rect x="136.32" y="128.60" width="3.5" height="3.40" fill="#bf606b"/><rect x="140.48" y="129.30" width="3.5" height="2.70" fill="#bf606b"/><rect x="144.64" y="130.10" width="3.5" height="1.90" fill="#bf606b"/><rect x="148.80" y="130.50" width="3.5" height="1.50" fill="#bf606b"/><rect x="152.96" y="130.70" width="3.5" height="1.30" fill="#bf606b"/><rect x="157.12" y="130.80" width="3.5" height="1.20" fill="#bf606b"/><rect x="161.28" y="130.90" width="3.5" height="1.10" fill="#bf606b"/><rect x="165.44" y="131.00" width="3.5" height="1.00" fill="#bf606b"/><rect x="169.60" y="131.00" width="3.5" height="1.00" fill="#bf606b"/><rect x="173.76" y="131.00" width="3.5" height="1.00" fill="#bf606b"/><rect x="177.92" y="131.00" width="3.5" height="1.00" fill="#bf606b"/><rect x="182.08" y="131.00" width="3.5" height="1.00" fill="#bf606b"/><rect x="186.24" y="131.00" width="3.5" height="1.00" fill="#bf606b"/><rect x="190.40" y="131.00" width="3.5" height="1.00" fill="#bf606b"/><rect x="194.56" y="131.00" width="3.5" height="1.00" fill="#bf606b"/><rect x="198.72" y="131.00" width="3.5" height="1.00" fill="#bf606b"/><rect x="202.88" y="131.00" width="3.5" height="1.00" fill="#bf606b"/><rect x="207.04" y="131.00" width="3.5" height="1.00" fill="#bf606b"/><rect x="211.20" y="131.00" width="3.5" height="1.00" fill="#bf606b"/><rect x="215.36" y="131.00" width="3.5" height="1.00" fill="#bf606b"/><rect x="219.52" y="131.00" width="3.5" height="1.00" fill="#bf606b"/><rect x="223.68" y="131.00" width="3.5" height="1.00" fill="#bf606b"/><rect x="227.84" y="131.00" width="3.5" height="1.00" fill="#bf606b"/><rect x="232.00" y="131.00" width="3.5" height="1.00" fill="#bf606b"/><rect x="236.16" y="131.00" width="3.5" height="1.00" fill="#bf606b"/><text x="25.75" y="143" text-anchor="middle" class="tx">0</text><path d="M25.75 132.3v3.2" stroke="rgba(255,255,255,.16)" stroke-width="0.8"/><text x="42.39" y="143" text-anchor="middle" class="tx">400</text><path d="M42.39 132.3v3.2" stroke="rgba(255,255,255,.16)" stroke-width="0.8"/><text x="63.19" y="143" text-anchor="middle" class="tx">900</text><path d="M63.19 132.3v3.2" stroke="rgba(255,255,255,.16)" stroke-width="0.8"/><text x="83.99" y="143" text-anchor="middle" class="tx">1400</text><path d="M83.99 132.3v3.2" stroke="rgba(255,255,255,.16)" stroke-width="0.8"/><text x="108.95" y="143" text-anchor="middle" class="tx">2000</text><path d="M108.95 132.3v3.2" stroke="rgba(255,255,255,.16)" stroke-width="0.8"/><text x="133.91" y="143" text-anchor="middle" class="tx">2600</text><path d="M133.91 132.3v3.2" stroke="rgba(255,255,255,.16)" stroke-width="0.8"/><text x="158.87" y="143" text-anchor="middle" class="tx">3200</text><path d="M158.87 132.3v3.2" stroke="rgba(255,255,255,.16)" stroke-width="0.8"/><text x="183.83" y="143" text-anchor="middle" class="tx">3800</text><path d="M183.83 132.3v3.2" stroke="rgba(255,255,255,.16)" stroke-width="0.8"/><text x="208.79" y="143" text-anchor="middle" class="tx">4400</text><path d="M208.79 132.3v3.2" stroke="rgba(255,255,255,.16)" stroke-width="0.8"/><text x="233.75" y="143" text-anchor="middle" class="tx">5000</text><path d="M233.75 132.3v3.2" stroke="rgba(255,255,255,.16)" stroke-width="0.8"/></svg>
<div class="lg" style="left:10px"><i style="background:#a0bd86"></i>Good &lt; 100 ms<br>4.5%</div>
<div class="lg" style="left:92px"><i style="background:#ebcb89"></i><span style="letter-spacing:0.35px">Moderate</span><br>52.7%</div>
<div class="lg" style="left:185px"><i style="background:#bf606b"></i>Poor &gt; 600 ms<br>42.8%</div>
</div>
<svg style="position:absolute;left:950.1px;top:806.9px" width="16" height="22" viewBox="-2 -2 16 22"><path d="M0 0V14.300L3.200 11.400 5.200 16 7.400 15 5.400 10.600H10.300Z" fill="#fff" stroke="#000" stroke-width="1.1" stroke-linejoin="miter"/></svg>
<div id="chat"><svg viewBox="0 0 40 40" width="40" height="40"><path d="M13.1 26.300A9.900 9.900 0 1 1 18.400 29.050L16.500 30.700Z" fill="#fff" stroke="#fff" stroke-width=".6" stroke-linejoin="round"/><path d="M19.500 23.800Q22.400 26.500 25.300 23.800" fill="none" stroke="#2b3242" stroke-width="1.500" stroke-linecap="round"/></svg></div>
</body></html>
